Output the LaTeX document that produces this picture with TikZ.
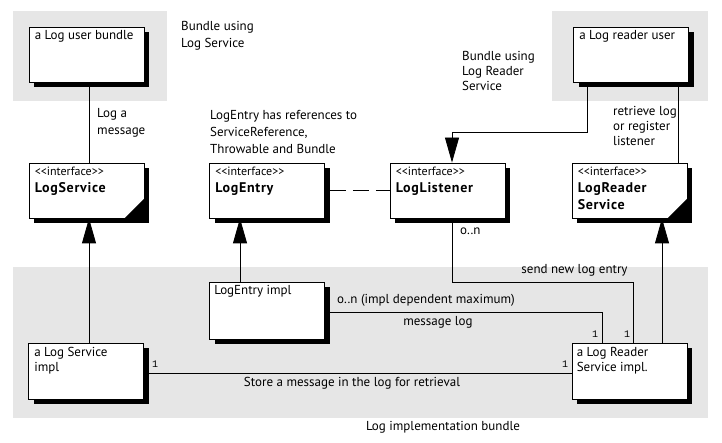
\documentclass[tikz,border=0pt]{standalone}
\usepackage{fontspec}
\setmainfont{PT Sans}
\setmonofont{Liberation Mono}
\usetikzlibrary{positioning,arrows.meta,shadows}

\definecolor{bundlegray}{HTML}{E6E6E6}

\begin{document}
\begin{tikzpicture}[x=1pt, y=-1pt,
    font=\fontsize{13}{17}\selectfont,
    every node/.style={inner sep=0pt},
    box/.style={draw, fill=white, line width=0.8pt, minimum width=115pt, minimum height=55pt,
      general shadow={fill=black, shadow xshift=5pt, shadow yshift=-5pt}},
    boxtext/.style={anchor=north west, align=left},
    note/.style={anchor=north west, align=left},
    mult/.style={font=\ttfamily\fontsize{10}{12}\selectfont},
    link/.style={line width=0.8pt},
    realize/.style={link, -{Triangle[length=25pt, width=14pt]}},
  ]
  \useasboundingbox (0,0) rectangle (722,443);

  % bundles
  \fill[bundlegray] (13,11) rectangle (167,101);
  \fill[bundlegray] (552,11) rectangle (708,101);
  \fill[bundlegray] (13,267) rectangle (708,418);

  % user bundles
  \node[box] (user) at (86.5,54.5) {};
  \node[boxtext] (usertxt) at ([shift={(6pt,-4pt)}]user.north west) {a Log user bundle};
  \node[box] (reader) at (631,54.5) {};
  \node[boxtext] (readertxt) at ([shift={(6pt,-4pt)}]reader.north west) {a Log reader user};

  % interfaces
  \def\ifacename#1{{\fontsize{14}{17}\selectfont\bfseries\addfontfeature{LetterSpace=5}#1}}
  \def\ifacetext#1{{\fontsize{12}{17}\selectfont<{}<interface>{}>}\\\ifacename{#1}}
  \node[box] (ls) at (86.5,190.5) {};
  \fill (ls.south east) -- ++(-20pt,0pt) -- ++(20pt,20pt) -- cycle;
  \node[boxtext] (lstxt) at ([shift={(6pt,-4pt)}]ls.north west) {\ifacetext{LogService}};
  \node[box] (le) at (267,190.5) {};
  \node[boxtext] (letxt) at ([shift={(6pt,-4pt)}]le.north west) {\ifacetext{LogEntry}};
  \node[box] (ll) at (447.5,190.5) {};
  \node[boxtext] (lltxt) at ([shift={(6pt,-4pt)}]ll.north west) {\ifacetext{LogListener}};
  \node[box] (lrs) at (629.5,190.5) {};
  \fill (lrs.south east) -- ++(-20pt,0pt) -- ++(20pt,20pt) -- cycle;
  \node[boxtext] (lrstxt) at ([shift={(6pt,-4pt)}]lrs.north west)
    {\ifacetext{LogReader}\\\ifacename{Service}};

  % implementation
  \node[box, minimum height=57pt] (leimpl) at (267,310.5) {};
  \node[boxtext] (leimpltxt) at ([shift={(5pt,-3pt)}]leimpl.north west) {LogEntry impl};
  \node[box, minimum height=56pt] (lsimpl) at (86,371) {};
  \node[boxtext, font=\fontsize{13}{15}\selectfont] (lsimpltxt) at ([shift={(6pt,-4pt)}]lsimpl.north west)
    {a Log Service\\impl};
  \node[box, minimum height=56pt] (lrsimpl) at (629.5,371) {};
  \node[boxtext, font=\fontsize{13}{15}\selectfont] (lrsimpltxt) at ([shift={(5pt,-4pt)}]lrsimpl.north west)
    {a Log Reader\\Service impl.};

  % connectors
  \draw[link] ([xshift=2.5pt]user.south) -- ([xshift=2.5pt]ls.north);
  \draw[realize] ([xshift=3pt]lsimpl.north) -- ([xshift=2.5pt]ls.south);
  \draw[realize] ([xshift=-27pt]leimpl.north) -- ([xshift=-27pt]le.south);
  \draw[realize] ([xshift=32.5pt]lrsimpl.north) -- ([xshift=32.5pt]lrs.south);
  \draw[link, dash pattern=on 16pt off 7pt] ([xshift=5pt]le.east) -- (ll.west);
  \draw[realize] ([xshift=-44pt]reader.south) -- ++(0,50) -| ([xshift=4.5pt]ll.north);
  \draw[link] ([xshift=47pt]reader.south) coordinate (rr) -- (rr |- lrs.north);
  \draw[link] ([xshift=4.5pt]ll.south) -- ++(0,64) -| ([xshift=3.5pt]lrsimpl.north);
  \draw[link] ([shift={(5pt,-1.5pt)}]leimpl.east) -| ([xshift=-27.5pt]lrsimpl.north);
  \draw[link] ([shift={(5pt,-2pt)}]lsimpl.east) -- ([yshift=-2pt]lrsimpl.west);

  % notes and labels
  \node[note] (lsnote) at (181,21) {Bundle using\\Log Service};
  \node[note, font=\fontsize{13}{15}\selectfont] (lrsnote) at (462,51) {Bundle using\\Log Reader\\Service};
  \node[note] (lenote) at (210,110) {LogEntry has references to\\ServiceReference,\\Throwable and Bundle};
  \node[note] (lognote) at (97,108) {Log a\\message};
  \node[note, font=\fontsize{13}{15}\selectfont] (retrnote) at (613,106) {retrieve log\\or register\\listener};
  \node[anchor=west] (onlbl) at (460,231) {o..n};
  \node (sendlbl) at (574.5,270) {send new log entry};
  \node[anchor=west] (maxlbl) at (337,300) {o..n (impl dependent maximum)};
  \node (msglbl) at (438,322) {message log};
  \node (storelbl) at (352,383) {Store a message in the log for retrieval};
  \node (bundlelbl) at (443,427) {Log implementation bundle};
  \node[mult] (m1) at (627,334) {1};
  \node[mult] (m2) at (595,334) {1};
  \node[mult] (m3) at (565,364) {1};
  \node[mult] (m4) at (155,364) {1};
\end{tikzpicture}
\end{document}
